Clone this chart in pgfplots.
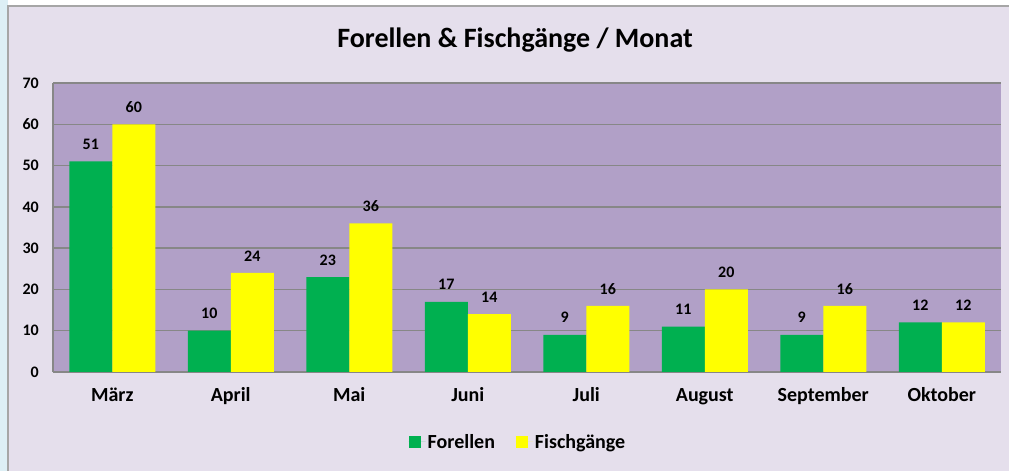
\documentclass[border=0pt]{standalone}
\usepackage{fontspec}
\setmainfont{Carlito}
\usepackage{pgfplots}
\pgfplotsset{compat=1.18}
\definecolor{bgouter}{HTML}{E5DFEC}
\definecolor{plotbg}{HTML}{B1A0C7}
\definecolor{barg}{HTML}{00B050}
\definecolor{bary}{HTML}{FFFF00}
\definecolor{gridc}{HTML}{878787}
\definecolor{strip}{HTML}{DDEFF5}
\definecolor{framec}{HTML}{A6A6A6}
\begin{document}
\begin{tikzpicture}[x=1pt,y=1pt]
\path[use as bounding box] (0,0) rectangle (1009,471);
\fill[strip] (0,0) rectangle (8,471);
\fill[bgouter] (8,0) rectangle (1009,465);
\draw[framec, line width=2pt] (8,0) -- (8,465) -- (1009,465);
\node[font=\fontsize{28}{32}\selectfont\bfseries] at (515,431) {Forellen \& Fischgänge / Monat};
\begin{axis}[
  at={(53pt,99pt)}, anchor=south west, scale only axis,
  width=948pt, height=289pt,
  ybar=0pt, bar width=43pt,
  xmin=-0.5, xmax=7.5, ymin=0, ymax=70,
  xtick={0,...,7},
  xticklabels={März,April,Mai,Juni,Juli,August,September,Oktober},
  ytick={0,10,...,70},
  major tick length=0pt,
  ymajorgrids,
  major grid style={gridc, line width=1.5pt},
  axis background/.style={fill=plotbg},
  axis x line*=bottom, axis y line*=left,
  axis line style={gridc, line width=1.5pt, -},
  /pgf/number format/assume math mode=true,
  xticklabel style={font=\fontsize{20}{24}\selectfont\bfseries, anchor=center, inner sep=0pt, text height=0.644em, text depth=0pt, yshift=-26.7pt},
  yticklabel style={font=\fontsize{16}{20}\selectfont\bfseries, anchor=east, inner sep=0pt, text depth=0pt, xshift=-14pt},
  nodes near coords,
  every node near coord/.append style={font=\fontsize{16}{20}\selectfont\bfseries, anchor=south, inner sep=0pt, text depth=0pt, yshift=11.7pt},
  legend columns=2,
  legend style={at={(0.4905,-0.242)}, anchor=center, draw=none, fill=none,
    font=\fontsize{20}{24}\selectfont\bfseries,
    /tikz/every even column/.append style={column sep=19pt}},
  legend image code/.code={\fill[#1] (0pt,-6pt) rectangle (12pt,6pt); \path (0pt,0pt) -- (17pt,0pt);},
]
\addplot[fill=barg, draw=none] coordinates {(0,51)(1,10)(2,23)(3,17)(4,9)(5,11)(6,9)(7,12)};
\addplot[fill=bary, draw=none] coordinates {(0,60)(1,24)(2,36)(3,14)(4,16)(5,20)(6,16)(7,12)};
\legend{Forellen, Fischgänge}
\end{axis}
\end{tikzpicture}
\end{document}
